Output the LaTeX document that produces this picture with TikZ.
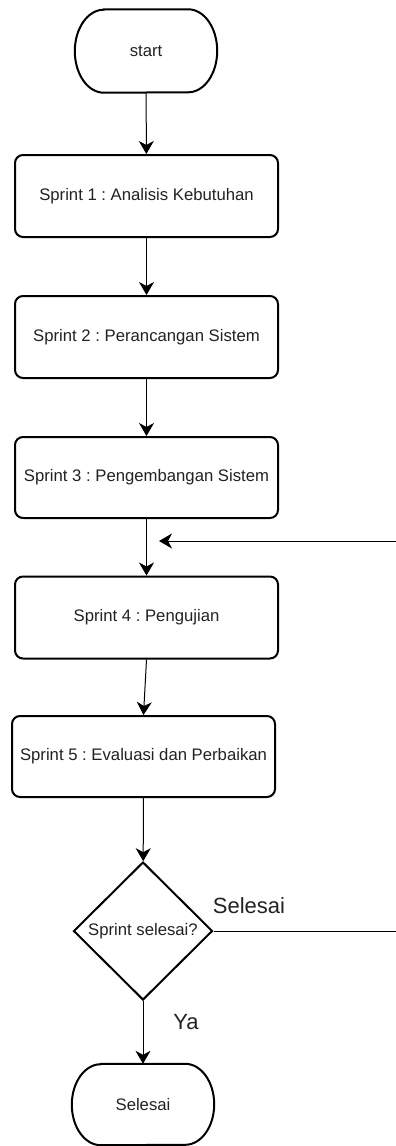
\documentclass[tikz,border=0pt]{standalone}
\usepackage{fontspec}
\setmainfont{Liberation Sans}
\usetikzlibrary{shapes.geometric,arrows.meta}
\definecolor{txt}{HTML}{222222}
\frenchspacing
\tikzset{
  terminal/.style={minimum width=142pt, minimum height=83pt, inner sep=0pt, text=txt, font=\fontsize{16.7}{20}\selectfont},
  termline/.style={draw=black, line width=2pt},
  process/.style={draw=black, line width=2pt, rounded corners=8pt, minimum width=263pt, minimum height=81pt, inner sep=0pt, text=txt, font=\fontsize{16.7}{20}\selectfont},
  decision/.style={draw=black, line width=2pt, diamond, aspect=1, minimum width=139pt, minimum height=138pt, inner sep=0pt, text=txt, font=\fontsize{16.7}{20}\selectfont},
  flow/.style={draw=black, line width=1pt, -{Stealth[length=13pt, width=15pt, inset=4pt]}},
  plain/.style={draw=black, line width=1pt},
  edgelabel/.style={text=txt, font=\fontsize{22}{26}\selectfont, inner sep=0pt}
}
\newcommand\termborder[2]{%
  \draw[termline] ([xshift=29pt]#1.north west) -- ([xshift=-29pt]#1.north east)
    arc[start angle=90, end angle=-90, x radius=29pt, y radius=#2]
    -- ([xshift=29pt]#1.south west)
    arc[start angle=270, end angle=90, x radius=29pt, y radius=#2] -- cycle;}
\begin{document}
\begin{tikzpicture}[x=1pt, y=-1pt]
\useasboundingbox (0,0) rectangle (396,1146);
\fill[white] (0,0) rectangle (396,1146);
\node[terminal] (start) at (146,51) {start};
\termborder{start}{41.5pt}
\node[process, minimum height=82pt] (s1) at (146.5,196) {Sprint 1 : Analisis Kebutuhan};
\node[process, minimum height=82pt] (s2) at (146.5,337) {Sprint 2 : Perancangan Sistem};
\node[process] (s3) at (146.5,477.5) {Sprint 3 : Pengembangan Sistem};
\node[process, minimum height=82pt] (s4) at (146.5,617.5) {Sprint 4 : Pengujian};
\node[process] (s5) at (143.5,756.5) {Sprint 5 : Evaluasi dan Perbaikan};
\node[decision] (dec) at (143,931) {Sprint selesai?};
\node[terminal, minimum height=81pt] (end) at (143,1104.5) {Selesai};
\termborder{end}{40.5pt}
\coordinate (fbstart) at (396,541);
\coordinate (fbend) at (159,541);
\coordinate (selend) at (396,931);
\node[edgelabel] (lblsel) at (249,906) {Selesai};
\node[edgelabel] (lblya) at (186,1022) {Ya};
\draw[flow] (start) -- (s1);
\draw[flow] (s1) -- (s2);
\draw[flow] (s2) -- (s3);
\draw[flow] (s3) -- (s4);
\draw[flow] (s4.south) -- (s5.north);
\draw[flow] (s5) -- (dec);
\draw[flow] (dec) -- (end);
\draw[plain] (dec.east) -- (selend);
\draw[flow] (fbstart) -- (fbend);
\end{tikzpicture}
\end{document}
